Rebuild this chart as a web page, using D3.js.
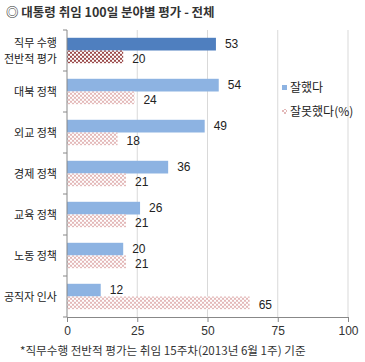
<!DOCTYPE html>
<html>
<head>
<meta charset="utf-8">
<script src="https://cdn.jsdelivr.net/npm/d3@7"></script>
<style>
  body { margin: 0; background: #fff; }
  svg text { font-family: "Noto Sans CJK KR", "Noto Sans", sans-serif; fill: #222; }
  svg text.num { font-family: "Liberation Sans", Arial, sans-serif; }
</style>
</head>
<body>
<svg id="chart" width="365" height="362"></svg>
<script>
const categories = ["직무 수행\n전반적 평가", "대북 정책", "외교 정책", "경제 정책", "교육 정책", "노동 정책", "공직자 인사"];
const goodValues = [53, 54, 49, 36, 26, 20, 12];
const badValues = [20, 24, 18, 21, 21, 21, 65];
const seriesNames = ["잘했다", "잘못했다(%)"];
const xTicks = [0, 25, 50, 75, 100];

let svg = d3.select("#chart");

// checker patterns
let defs = svg.append("defs");
function checker(id, color) {
  let p = defs.append("pattern")
    .attr("id", id)
    .attr("width", 4)
    .attr("height", 4)
    .attr("patternUnits", "userSpaceOnUse");
  p.append("rect").attr("width", 4).attr("height", 4).attr("fill", "#fff");
  p.append("rect").attr("width", 2).attr("height", 2).attr("fill", color);
  p.append("rect").attr("x", 2).attr("y", 2).attr("width", 2).attr("height", 2).attr("fill", color);
}
checker("badDark", "#9b4a4a");
checker("badLight", "#e3b8b8");

let x = d3.scaleLinear().domain([0, 100]).range([67, 348]);
let y = d3.scaleBand().domain(categories).range([30, 317]).paddingInner(0.38).paddingOuter(0.19);
let ySub = d3.scaleBand().domain(["good", "bad"]).range([0, y.bandwidth()]);

// title
svg.append("text")
  .attr("x", 6)
  .attr("y", 17)
  .attr("font-size", "12.5px")
  .attr("font-weight", "bold")
  .style("fill", "#333")
  .text("◎  대통령 취임 100일 분야별 평가 - 전체");

// vertical grid lines
svg.append("g")
  .selectAll("line")
  .data(xTicks.filter((d) => d > 0))
  .enter()
  .append("line")
  .attr("x1", (d) => x(d))
  .attr("x2", (d) => x(d))
  .attr("y1", 30)
  .attr("y2", 317)
  .attr("stroke", "#d9d9d9");

// bars
let groups = svg.append("g")
  .selectAll("g")
  .data(categories)
  .enter()
  .append("g")
  .attr("transform", (d) => "translate(0," + y(d) + ")");

groups.append("rect")
  .attr("x", x(0))
  .attr("y", ySub("good"))
  .attr("width", (d, i) => x(goodValues[i]) - x(0))
  .attr("height", ySub.bandwidth())
  .attr("fill", (d, i) => (i === 0 ? "#4f7fbf" : "#8db3e2"));

groups.append("rect")
  .attr("x", x(0))
  .attr("y", ySub("bad"))
  .attr("width", (d, i) => x(badValues[i]) - x(0))
  .attr("height", ySub.bandwidth())
  .attr("fill", (d, i) => (i === 0 ? "url(#badDark)" : "url(#badLight)"));

// value labels
groups.append("text")
  .attr("class", "num")
  .attr("x", (d, i) => x(goodValues[i]) + 9)
  .attr("y", ySub("good") + ySub.bandwidth() / 2 + 4)
  .attr("font-size", "12px")
  .text((d, i) => goodValues[i]);

groups.append("text")
  .attr("class", "num")
  .attr("x", (d, i) => x(badValues[i]) + 9)
  .attr("y", ySub("bad") + ySub.bandwidth() / 2 + 6)
  .attr("font-size", "12px")
  .text((d, i) => badValues[i]);

// x axis
let xAxis = svg.append("g")
  .attr("transform", "translate(0,317)")
  .call(d3.axisBottom(x).tickValues(xTicks).tickSize(5).tickPadding(4));
xAxis.select(".domain").attr("stroke", "#888");
xAxis.selectAll(".tick line").attr("stroke", "#888");
xAxis.selectAll(".tick text")
  .attr("font-size", "12px")
  .style("font-family", "'Liberation Sans', Arial, sans-serif")
  .style("fill", "#333");

// y axis line and ticks between categories
svg.append("line")
  .attr("x1", x(0)).attr("x2", x(0))
  .attr("y1", 30).attr("y2", 317)
  .attr("stroke", "#888");

let boundaries = categories.map((d) => y(d) - y.step() * y.paddingInner() / 2);
boundaries.push(317);
svg.append("g")
  .selectAll("line")
  .data(boundaries)
  .enter()
  .append("line")
  .attr("x1", x(0) - 4)
  .attr("x2", x(0))
  .attr("y1", (d) => d)
  .attr("y2", (d) => d)
  .attr("stroke", "#888");

// category labels
let labels = svg.append("g")
  .selectAll("text")
  .data(categories)
  .enter()
  .append("text")
  .attr("text-anchor", "end")
  .attr("font-size", "11px")
  .attr("x", 57)
  .attr("y", (d) => y(d) + y.bandwidth() / 2 + 4);

labels.each(function (d) {
  let lines = d.split("\n");
  let t = d3.select(this);
  lines.forEach((line, k) => {
    t.append("tspan")
      .attr("x", 57)
      .attr("dy", k === 0 ? (-(lines.length - 1) * 8) : 16)
      .text(line);
  });
});

// legend
let legend = svg.append("g");
legend.append("rect")
  .attr("x", 282).attr("y", 85)
  .attr("width", 5).attr("height", 5)
  .attr("fill", "#8db3e2");
legend.append("text")
  .attr("x", 290).attr("y", 92)
  .attr("font-size", "12px")
  .text(seriesNames[0]);
legend.append("rect")
  .attr("x", 282).attr("y", 109)
  .attr("width", 5).attr("height", 5)
  .attr("fill", "url(#badLight)");
legend.append("text")
  .attr("x", 290).attr("y", 116)
  .attr("font-size", "12px")
  .text(seriesNames[1]);

// footnote
svg.append("text")
  .attr("x", 20)
  .attr("y", 355)
  .attr("font-size", "11.6px")
  .style("fill", "#333")
  .text("*직무수행 전반적 평가는 취임 15주차(2013년 6월 1주) 기준");
</script>
</body>
</html>
